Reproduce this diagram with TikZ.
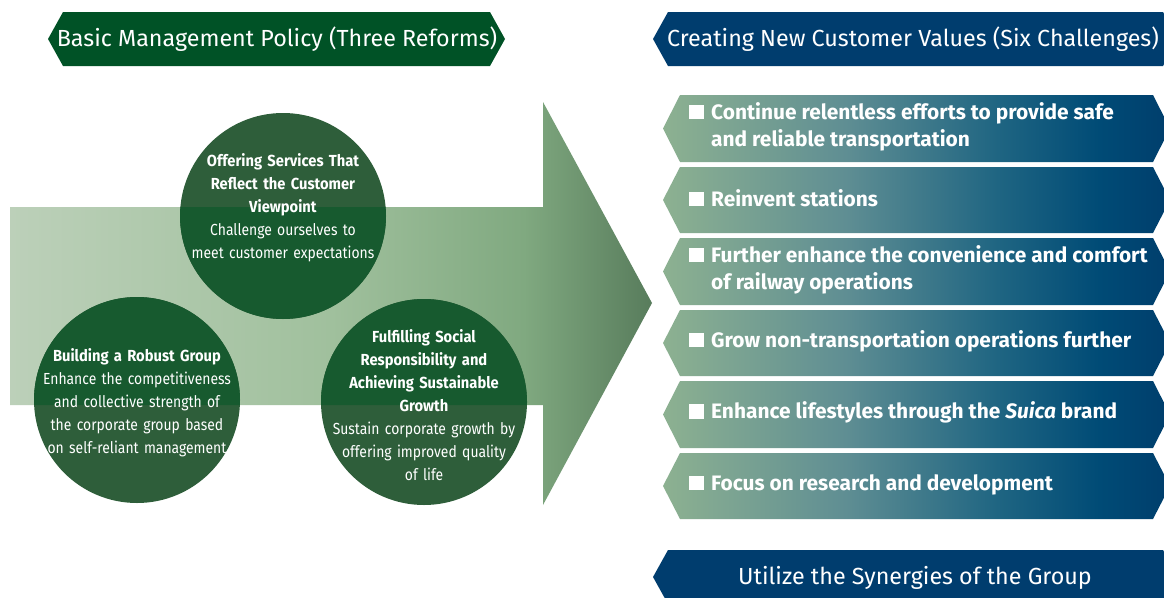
\documentclass[tikz,border=0pt]{standalone}
\usepackage{fontspec}
\setmainfont{Fira Sans}
\newfontfamily\narrowsans[FakeStretch=0.87, BoldFeatures={FakeStretch=0.92}]{Fira Sans}
\usetikzlibrary{positioning}

\definecolor{polGreen}{HTML}{005226}
\definecolor{valNavy}{HTML}{003D6E}
\definecolor{discOut}{HTML}{2E5E3A}
\definecolor{discIn}{HTML}{175A2F}
\definecolor{arrLight}{HTML}{BCD0B9}
\definecolor{arrMid}{HTML}{A0C09D}
\definecolor{arrDeep}{HTML}{80A980}
\definecolor{arrTip}{HTML}{587C5C}
\definecolor{chLeft}{HTML}{8DB191}
\definecolor{chMid}{HTML}{5F8E93}
\definecolor{chTeal}{HTML}{1F6582}
\definecolor{chDeep}{HTML}{004B76}
\definecolor{chRight}{HTML}{003E6C}

\pgfdeclarehorizontalshading{arrowshade}{100bp}{color(0bp)=(arrLight); color(25bp)=(arrLight);
  color(50bp)=(arrMid); color(65bp)=(arrDeep); color(75bp)=(arrTip); color(100bp)=(arrTip)}
\pgfdeclarehorizontalshading{chalshade}{100bp}{color(0bp)=(chLeft); color(25bp)=(chLeft);
  color(43bp)=(chMid); color(58bp)=(chTeal); color(68bp)=(chDeep); color(75bp)=(chRight);
  color(100bp)=(chRight)}

% banner with pointed ends: left, top, right, bottom, point depth
\newcommand\tagpath[5]{(#1+#5,#2) -- (#3-#5,#2) -- (#3,{(#2+#4)/2}) -- (#3-#5,#4)
  -- (#1+#5,#4) -- (#1,{(#2+#4)/2}) -- cycle}
\newcommand\arrowpath{(10,207) -- (543,207) -- (543,102) -- (652,303) -- (543,505)
  -- (543,405) -- (10,405) -- cycle}
\newcommand\sqb{\rule{15pt}{14.5pt}\hspace{7pt}}

\begin{document}
\begin{tikzpicture}[
  x=1pt, y=-1pt,
  headtext/.style={text=white, font=\fontsize{23.3}{26}\selectfont, inner sep=0pt},
  chal/.style={shading=chalshade},
  chaltext/.style={text=white, anchor=west, align=left, inner sep=0pt,
                   font=\fontsize{20.9}{27}\selectfont\bfseries},
  disc/.style={circle, fill=discOut, minimum size=206pt, inner sep=0pt},
  disctext/.style={text=white, align=center, text width=200pt, inner sep=0pt,
                   font=\narrowsans\fontsize{16}{23}\selectfont}
]
\useasboundingbox (0,0) rectangle (1164,597);
\fill[white] (0,0) rectangle (1164,597);

%% --- Headers ---------------------------------------------------
\fill[polGreen] \tagpath{48}{12}{505}{66}{15};
\node[headtext] (polHead) at (277,39) {Basic Management Policy (Three Reforms)};

\fill[valNavy] \tagpath{653}{12}{1178}{66}{15};
\node[headtext] (valHead) at (913,39) {Creating New Customer Values (Six Challenges)};

%% --- Big arrow with the three reforms ------------------------
\shade[shading=arrowshade] \arrowpath;

\node[disc] (discTop)   at (283,216) {};
\node[disc] (discLeft)  at (137,400) {};
\node[disc] (discRight) at (424,402) {};

\begin{scope}
  \clip \arrowpath;
  \fill[discIn] (discTop.center)   circle[radius=103pt];
  \fill[discIn] (discLeft.center)  circle[radius=103pt];
  \fill[discIn] (discRight.center) circle[radius=103pt];
\end{scope}

\node[disctext] (txtTop) at (283,207.5)
  {\textbf{Offering Services That\\Reflect the Customer\\Viewpoint}\\
   Challenge ourselves to\\meet customer expectations};
\node[disctext] (txtLeft) at (137,402.5)
  {\textbf{Building a Robust Group}\\Enhance the competitiveness\\
   and collective strength of\\the corporate group based\\on self-reliant management};
\node[disctext] (txtRight) at (424,405)
  {\textbf{Fulfilling Social\\Responsibility and\\Achieving Sustainable\\Growth}\\
   Sustain corporate growth by\\offering improved quality\\of life};

%% --- Six challenges --------------------------------------------
\shade[chal] \tagpath{663}{95}{1170}{162}{17};
\node[chaltext] (chSafe) at (689,126.5)
  {\sqb Continue relentless efforts to provide safe\\\hphantom{\sqb}and reliable transportation};

\shade[chal] \tagpath{663}{167}{1170}{233}{17};
\node[chaltext] (chStation) at (689,198) {\sqb Reinvent stations};

\shade[chal] \tagpath{663}{238}{1170}{305}{17};
\node[chaltext] (chRail) at (689,269.5)
  {\sqb Further enhance the convenience and comfort\\\hphantom{\sqb}of railway operations};

\shade[chal] \tagpath{663}{310}{1170}{376}{17};
\node[chaltext] (chNonTr) at (689,341) {\sqb Grow non-transportation operations further};

\shade[chal] \tagpath{663}{381}{1170}{448}{17};
\node[chaltext] (chSuica) at (689,412.5) {\sqb Enhance lifestyles through the \textit{Suica} brand};

\shade[chal] \tagpath{663}{453}{1170}{519}{17};
\node[chaltext] (chRnD) at (689,484.5) {\sqb Focus on research and development};

%% --- Group synergies ------------------------------------------
\fill[valNavy] \tagpath{653}{550}{1178}{604}{15};
\node[headtext] (synergy) at (915,578) {Utilize the Synergies of the Group};

\end{tikzpicture}
\end{document}
